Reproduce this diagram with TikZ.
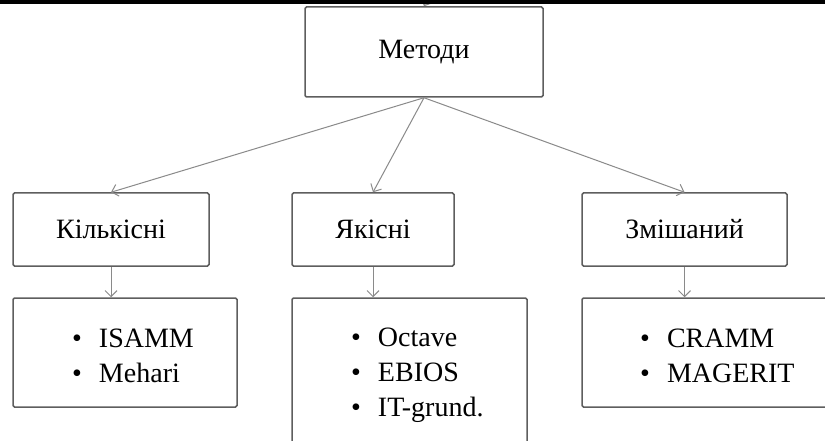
\documentclass[tikz,border=0pt]{standalone}
\usepackage{fontspec}
\setmainfont{Liberation Serif}
\usetikzlibrary{arrows.meta}
\definecolor{boxline}{HTML}{5E5E5E}
\definecolor{arrline}{HTML}{8A8A8A}
\tikzset{
  box/.style={draw=boxline, line width=1.5pt, rounded corners=1.5pt, fill=white,
    inner sep=0pt, font=\fontsize{28}{35}\selectfont},
  link/.style={draw=arrline, line width=1pt,
    -{Straight Barb[length=6pt,width=12pt,line width=1pt]}},
  items/.style={inner sep=0pt, anchor=base west, font=\fontsize{28}{35}\selectfont}
}
\newcommand{\bulletlist}[1]{\begin{tabular}[t]{@{}l@{\hspace{17pt}}l@{}}#1\end{tabular}}
\begin{document}
\begin{tikzpicture}[x=1pt,y=-1pt]
  \useasboundingbox (0,0) rectangle (825,441);
  \clip (0,0) rectangle (825,441);
  \fill[white] (0,0) rectangle (825,441);

  % top node
  \node[box, minimum width=238pt, minimum height=90pt] (root) at (424,52) {Методи};

  % second level
  \node[box, minimum width=196pt, minimum height=73pt] (quant) at (111,229.5) {Кількісні};
  \node[box, minimum width=162pt, minimum height=73pt] (qual)  at (373,229.5) {Якісні};
  \node[box, minimum width=205pt, minimum height=73pt] (mixed) at (684.5,229.5) {Змішаний};

  % third level frames
  \node[box, minimum width=224pt, minimum height=109pt] (quantlist) at (125,352.5) {};
  \node[box, minimum width=235pt, minimum height=170pt] (quallist)  at (409.5,383) {};
  \node[box, minimum width=260pt, minimum height=109pt] (mixedlist) at (712,352.5) {};

  % method lists
  \node[items] (quanttext) at (72,347) {\bulletlist{\textbullet & ISAMM\\ \textbullet & Mehari}};
  \node[items] (qualtext)  at (351,346) {\bulletlist{\textbullet & Octave\\ \textbullet & EBIOS\\ \textbullet & IT-grund.}};
  \node[items] (mixedtext) at (640,347) {\bulletlist{\textbullet & CRAMM\\ \textbullet & MAGERIT}};

  % connectors
  \coordinate (incoming) at (427,0);
  \draw[link] (incoming) -- (root.north);
  \draw[link] (root.south) -- (quant.north);
  \draw[link] (root.south) -- (qual.north);
  \draw[link] (root.south) -- (mixed.north);
  \draw[link] (quant.south) -- (quant.south |- quantlist.north);
  \draw[link] (qual.south)  -- (qual.south |- quallist.north);
  \draw[link] (mixed.south) -- (mixed.south |- mixedlist.north);

  % dark strip along the top edge
  \fill[black] (0,0) rectangle (825,4);
\end{tikzpicture}
\end{document}
